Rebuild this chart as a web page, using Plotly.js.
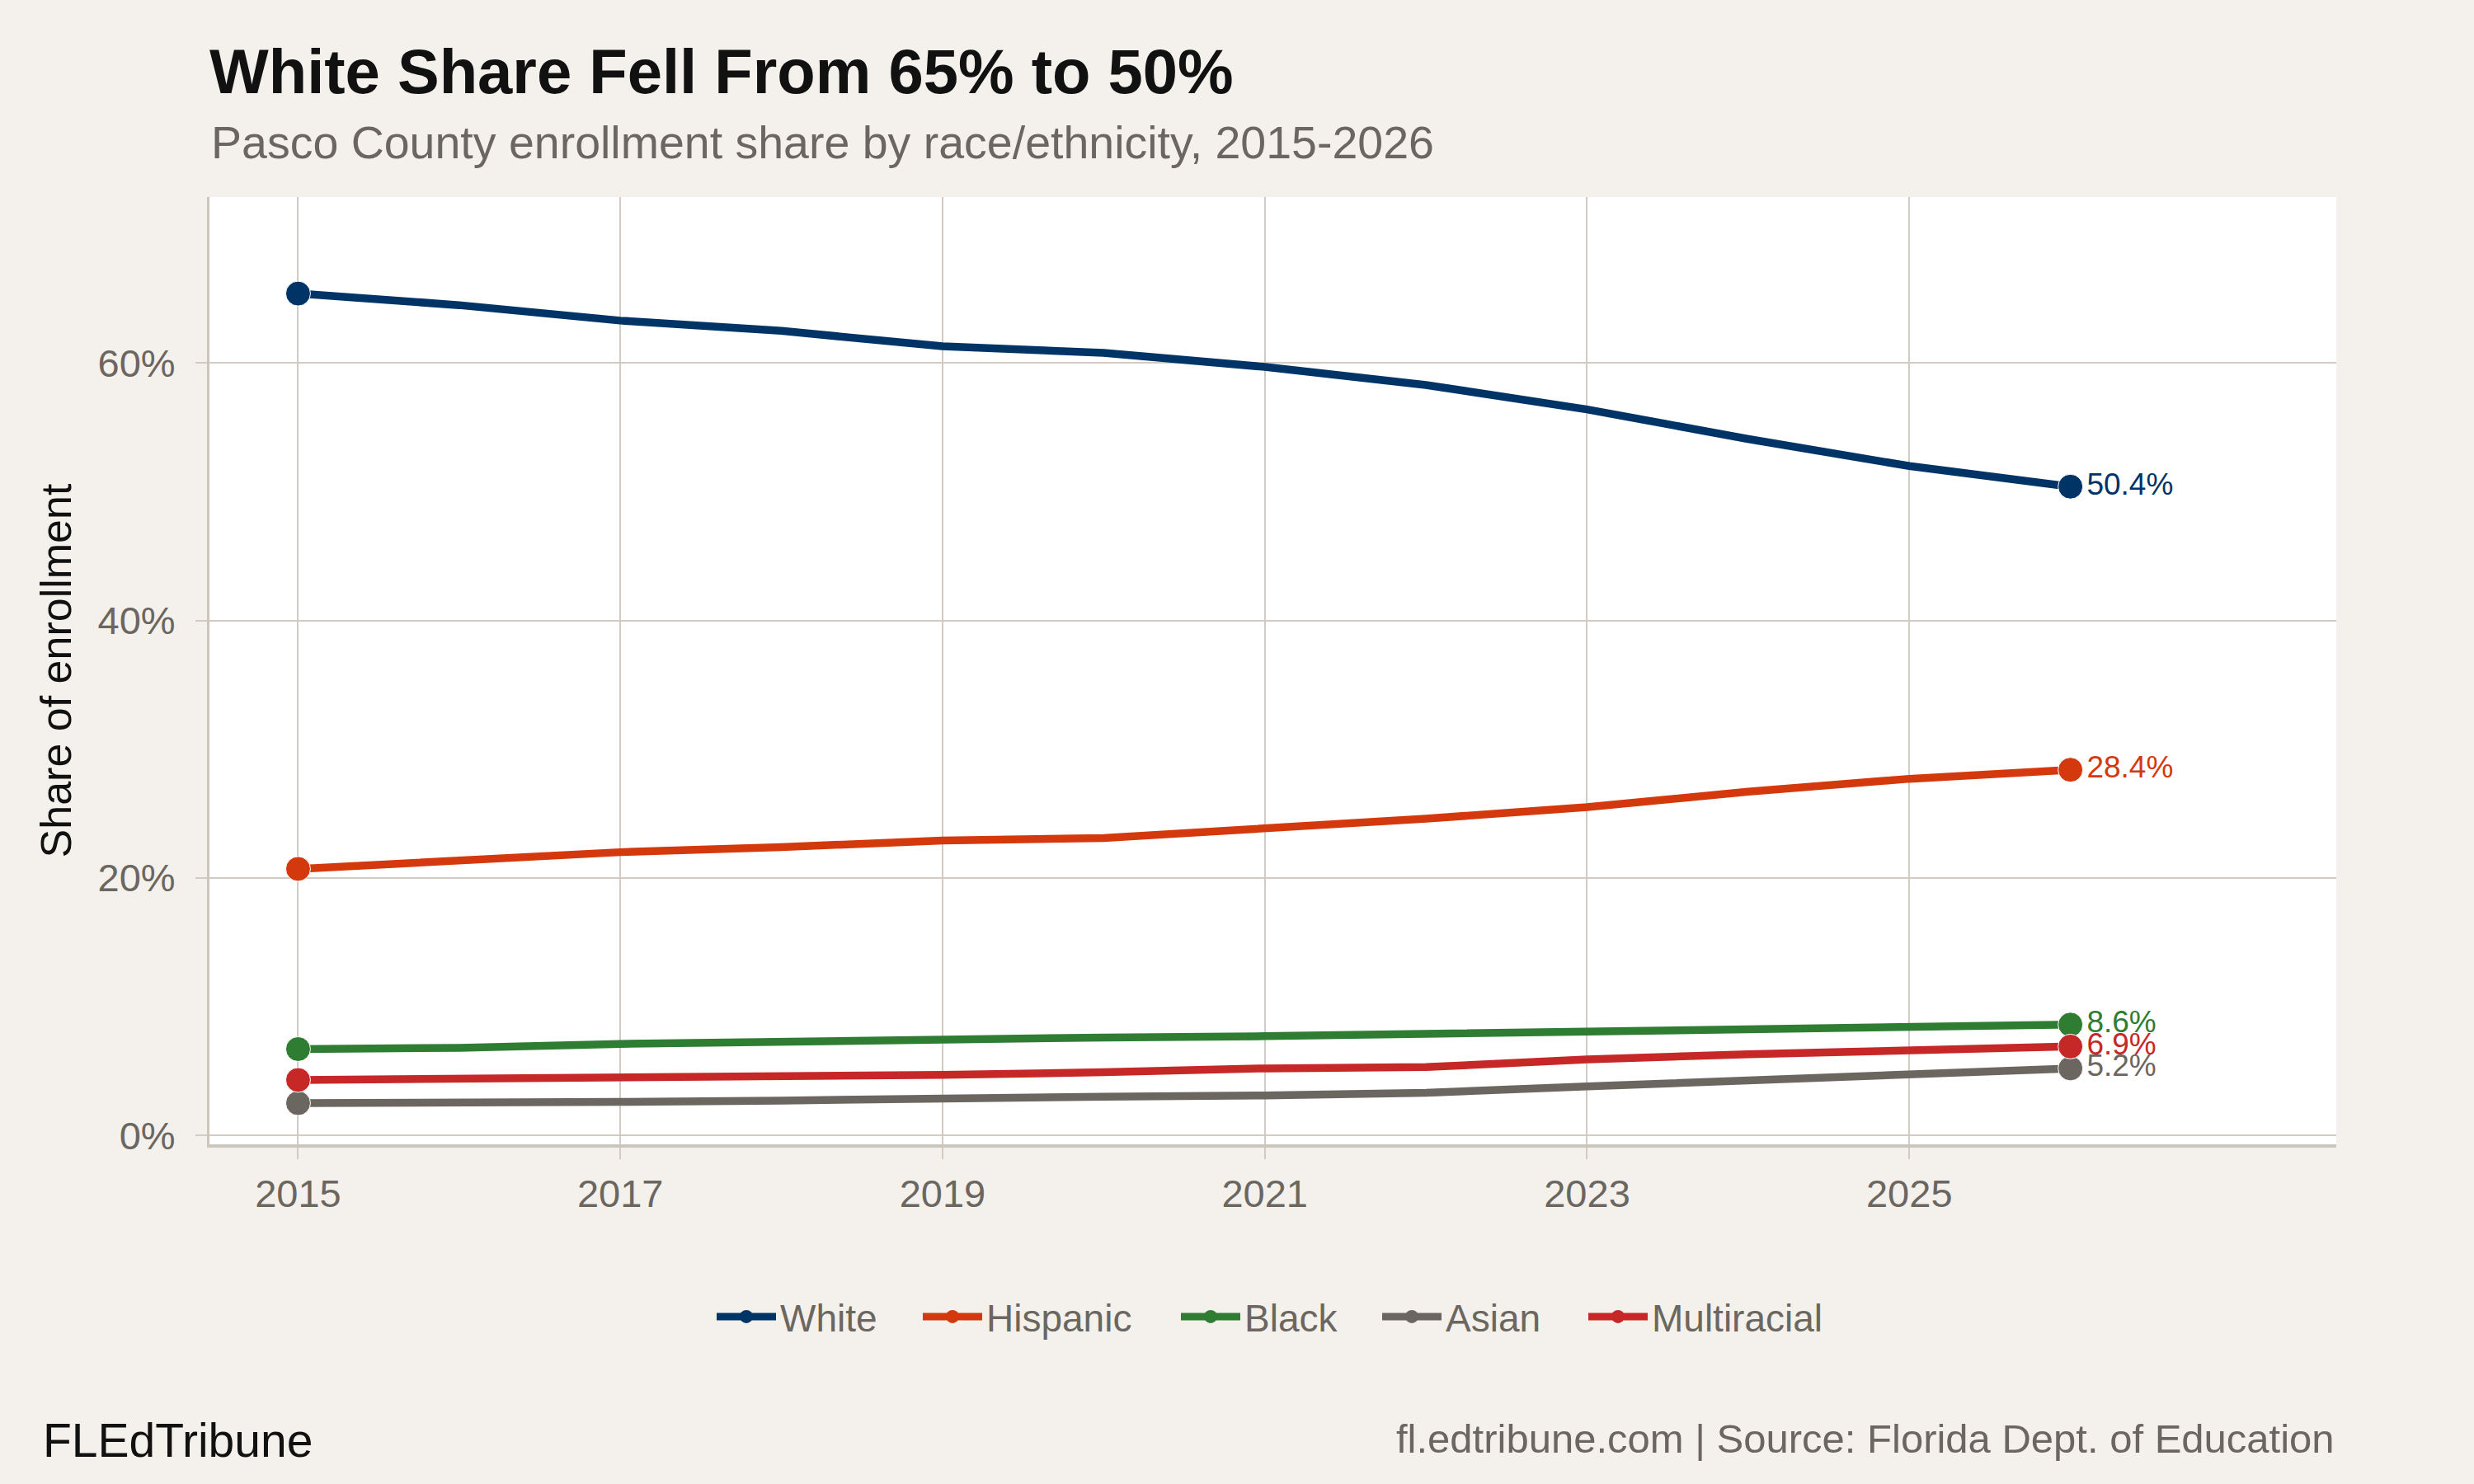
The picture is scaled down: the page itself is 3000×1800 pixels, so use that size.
<!DOCTYPE html>
<html>
<head>
<meta charset="utf-8">
<script src="https://cdn.plot.ly/plotly-3.0.1.min.js"></script>
<style>
  html, body { margin: 0; padding: 0; background: #f4f1ec; }
  #chart { width: 3000px; height: 1800px; }
</style>
</head>
<body>
<div id="chart"></div>
<script>
// School years (fall of each year)
const years = [2015, 2016, 2017, 2018, 2019, 2020, 2021, 2022, 2023, 2024, 2025, 2026];

// Share of Pasco County enrollment, percent
const white       = [65.4, 64.5, 63.3, 62.5, 61.3, 60.8, 59.7, 58.3, 56.4, 54.1, 52.0, 50.4];
const hispanic    = [20.7, 21.3, 22.0, 22.4, 22.9, 23.1, 23.8, 24.6, 25.5, 26.7, 27.7, 28.4];
const black       = [6.7, 6.8, 7.1, 7.3, 7.5, 7.6, 7.7, 7.9, 8.1, 8.3, 8.4, 8.6];
const asian       = [2.5, 2.5, 2.6, 2.7, 2.9, 3.0, 3.1, 3.3, 3.8, 4.3, 4.8, 5.2];
const multiracial = [4.3, 4.4, 4.5, 4.5, 4.7, 4.9, 5.2, 5.3, 5.9, 6.3, 6.6, 6.9];

const groupNames  = ['White', 'Hispanic', 'Black', 'Asian', 'Multiracial'];
const groupValues = [white, hispanic, black, asian, multiracial];

const xTicks = [2015, 2017, 2019, 2021, 2023, 2025];
const yTicks = [0, 20, 40, 60];

const palette = ['#003366', '#d4380d', '#2e7d32', '#6b6660', '#c62828'];
// room for the text part of each legend entry
const legendSlots = [163, 226, 157, 163, 230];

const FONT = 'Liberation Sans, Arial, Helvetica, sans-serif';
const GRID = '#d1cbc3';
const AXIS = '#ccc5bb';
const MUTED = '#6b6660';

// Each group: full line with dots on the first and last year and the
// latest share printed beside the last dot.
const dataTraces = groupNames.map((name, g) => {
  const vals = groupValues[g];
  const last = vals.length - 1;
  return {
    type: 'scatter',
    mode: 'lines+markers+text',
    name: name,
    legendgroup: name,
    showlegend: false,
    x: years,
    y: vals,
    line: { color: palette[g], width: 9.5 },
    marker: {
      color: palette[g],
      opacity: 1,
      size: vals.map((v, i) => (i === 0 || i === last) ? 30 : 0)
    },
    text: vals.map((v, i) => i === last ? v.toFixed(1) + '%' : ''),
    textposition: 'middle right',
    textfont: { family: FONT, size: 37, color: palette[g] },
    cliponaxis: false,
    hoverinfo: 'x+y+name'
  };
});

// Legend keys (line with a dot) for the same groups
const legendTraces = groupNames.map((name, g) => ({
  type: 'scatter',
  mode: 'lines+markers',
  name: name,
  legendgroup: name,
  legendwidth: legendSlots[g],
  x: [null],
  y: [null],
  line: { color: palette[g], width: 9 },
  marker: { color: palette[g], size: 16, opacity: 1 },
  hoverinfo: 'skip'
}));

const plotLeft = 254, plotTop = 239, plotRight = 2833, plotBottom = 1388;
const plotW = plotRight - plotLeft;
const plotH = plotBottom - plotTop;
const px2x = p => (p - plotLeft) / plotW;
const py = p => (plotBottom - p) / plotH;

const layout = {
  width: 3000,
  height: 1800,
  paper_bgcolor: '#f4f1ec',
  plot_bgcolor: '#ffffff',
  margin: { l: plotLeft, r: 3000 - plotRight, t: plotTop, b: 1800 - plotBottom, pad: 0 },
  font: { family: FONT, color: MUTED },
  showlegend: true,
  title: {
    text: '<b>White Share Fell From 65% to 50%</b>',
    font: { family: FONT, size: 76, color: '#111111' },
    xref: 'paper', x: 0, xanchor: 'left',
    yref: 'container', y: 1 - 86 / 1800, yanchor: 'middle'
  },
  xaxis: {
    range: [2014.45, 2027.65],
    tickvals: xTicks,
    ticktext: xTicks.map(String),
    showgrid: true, gridcolor: GRID, gridwidth: 2,
    zeroline: false,
    showline: true, linecolor: AXIS, linewidth: 3.5,
    ticks: 'outside', ticklen: 14, tickwidth: 2, tickcolor: GRID,
    ticklabelstandoff: 2,
    tickfont: { family: FONT, size: 47, color: MUTED },
    fixedrange: true
  },
  yaxis: {
    range: [-0.7, 72.9],
    tickvals: yTicks,
    ticktext: yTicks.map(v => v + '%'),
    showgrid: true, gridcolor: GRID, gridwidth: 2,
    zeroline: false,
    showline: true, linecolor: AXIS, linewidth: 3,
    ticks: 'outside', ticklen: 14, tickwidth: 2, tickcolor: GRID,
    ticklabelstandoff: 15,
    tickfont: { family: FONT, size: 47, color: MUTED },
    title: {
      text: 'Share of enrollment',
      font: { family: FONT, size: 52, color: '#111111' },
      standoff: 16
    },
    fixedrange: true
  },
  legend: {
    orientation: 'h',
    x: px2x(864), xanchor: 'left',
    y: py(1597), yanchor: 'middle',
    font: { family: FONT, size: 46, color: MUTED },
    bgcolor: 'rgba(0,0,0,0)',
    itemsizing: 'trace',
    itemwidth: 72,
    traceorder: 'normal'
  },
  annotations: [
    {
      text: 'Pasco County enrollment share by race/ethnicity, 2015-2026',
      xref: 'paper', yref: 'paper', x: 0, y: py(173),
      xanchor: 'left', yanchor: 'middle', showarrow: false,
      font: { family: FONT, size: 55.5, color: MUTED }
    },
    {
      text: 'FLEdTribune',
      xref: 'paper', yref: 'paper', x: px2x(50), y: py(1747),
      xanchor: 'left', yanchor: 'middle', showarrow: false,
      font: { family: FONT, size: 57, color: '#111111' }
    },
    {
      text: 'fl.edtribune.com | Source: Florida Dept. of Education',
      xref: 'paper', yref: 'paper', x: 1, y: py(1745),
      xanchor: 'right', yanchor: 'middle', showarrow: false,
      font: { family: FONT, size: 49, color: MUTED }
    }
  ]
};

Plotly.newPlot('chart', dataTraces.concat(legendTraces), layout, { displayModeBar: false, staticPlot: true });
</script>
</body>
</html>
